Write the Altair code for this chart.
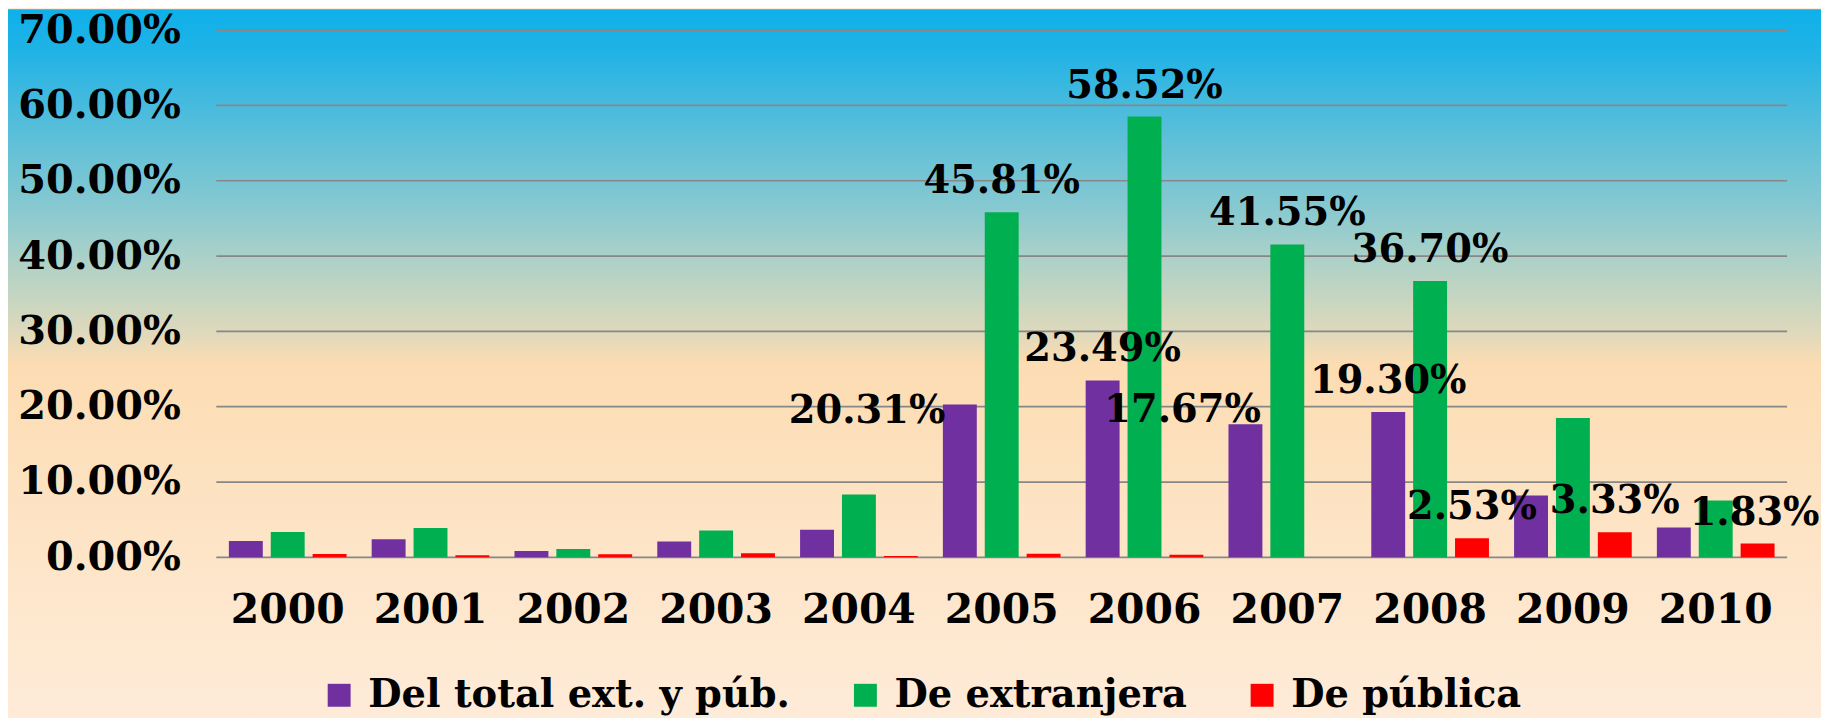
import altair as alt
import pandas as pd

years = ["2000", "2001", "2002", "2003", "2004", "2005", "2006", "2007", "2008", "2009", "2010"]
series = ["Del total ext. y púb.", "De extranjera", "De pública"]
colors = ["#7030A0", "#00B050", "#FF0000"]

total = [2.16, 2.39, 0.84, 2.12, 3.67, 20.31, 23.49, 17.67, 19.30, 8.22, 3.98]
extranjera = [3.36, 3.89, 1.10, 3.58, 8.35, 45.81, 58.52, 41.55, 36.70, 18.50, 7.55]
publica = [0.44, 0.27, 0.40, 0.53, 0.18, 0.49, 0.35, 0.00, 2.53, 3.33, 1.83]

total_labels = ["", "", "", "", "", "20.31%", "23.49%", "17.67%", "19.30%", "", ""]
extranjera_labels = ["", "", "", "", "", "45.81%", "58.52%", "41.55%", "36.70%", "", ""]
publica_labels = ["", "", "", "", "", "", "", "", "2.53%", "3.33%", "1.83%"]

y_ticks = [0, 10, 20, 30, 40, 50, 60, 70]

rows = []
for s, vals, labs in zip(series, [total, extranjera, publica],
                         [total_labels, extranjera_labels, publica_labels]):
    for yr, v, lb in zip(years, vals, labs):
        rows.append({"year": yr, "serie": s, "value": v, "label": lb})
df = pd.DataFrame(rows)
grid_df = pd.DataFrame({"value": y_ticks})

FONT = "DejaVu Serif"

W, H = 1576, 529
PAD = {"left": 209, "top": 21, "right": 34, "bottom": 160}

gradient = alt.Gradient(
    gradient="linear", x1=0, y1=0, x2=0, y2=1,
    stops=[
        alt.GradientStop(color="#0EB0EA", offset=0.0),
        alt.GradientStop(color="#20B3E6", offset=0.060),
        alt.GradientStop(color="#45BADE", offset=0.131),
        alt.GradientStop(color="#6DC3D5", offset=0.217),
        alt.GradientStop(color="#84C8D1", offset=0.274),
        alt.GradientStop(color="#A8D0C9", offset=0.345),
        alt.GradientStop(color="#CAD6BF", offset=0.416),
        alt.GradientStop(color="#E0D9BC", offset=0.459),
        alt.GradientStop(color="#FCDCB2", offset=0.501),
        alt.GradientStop(color="#FDE3C3", offset=0.701),
        alt.GradientStop(color="#FEEBD8", offset=1.0),
    ],
)

bg = alt.Chart(pd.DataFrame({"a": [0]})).mark_rect(fill=gradient).encode(
    x=alt.value(-PAD["left"]),
    x2=alt.value(W + PAD["right"]),
    y=alt.value(-PAD["top"]),
    y2=alt.value(H + PAD["bottom"]),
)

x_enc = alt.X(
    "year:N", sort=years, title=None,
    scale=alt.Scale(paddingInner=0, paddingOuter=0),
    axis=alt.Axis(
        labelAngle=0, labelBaseline="alphabetic", labelPadding=65,
        domain=False, ticks=False, tickSize=0, grid=False, zindex=1,
        labelFont=FONT, labelFontSize=41, labelFontWeight="bold", labelColor="#000000",
    ),
)
y_enc = alt.Y(
    "value:Q", title=None,
    scale=alt.Scale(domain=[0, 70], nice=False, zero=True),
    axis=alt.Axis(
        values=y_ticks,
        labelExpr="format(datum.value, '.2f') + '%'",
        labelPadding=36, domain=False, ticks=False, tickSize=0,
        grid=False, zindex=1,
        labelFont=FONT, labelFontSize=40, labelFontWeight="bold", labelColor="#000000",
    ),
)

grid = alt.Chart(grid_df).mark_rule(color="#878787", strokeWidth=1.7).encode(y=y_enc)

base = alt.Chart(df).encode(
    x=x_enc,
    xOffset=alt.XOffset(
        "serie:N", sort=series,
        scale=alt.Scale(domain=series, paddingInner=0.19, paddingOuter=0.3),
    ),
    y=y_enc,
)

bars = base.mark_bar().encode(
    color=alt.Color(
        "serie:N", sort=series,
        scale=alt.Scale(domain=series, range=colors),
        legend=alt.Legend(
            title=None, orient="none", legendX=104, legendY=648,
            direction="horizontal", symbolType="square", symbolSize=529,
            symbolStrokeWidth=0, symbolOffset=0, labelOffset=10,
            columnPadding=56, padding=0, labelLimit=1000,
            labelFont=FONT, labelFontSize=38.5, labelFontWeight="bold", labelColor="#000000",
        ),
    )
)

text_kw = dict(font=FONT, fontSize=38.5, fontWeight="bold", color="#000000",
               baseline="alphabetic", align="center")

special = ["20.31%", "17.67%", "1.83%"]
lab_main = base.mark_text(dy=-19, **text_kw).encode(text="label:N").transform_filter(
    "datum.label != '' && indexof(" + str(special) + ", datum.label) < 0"
)
lab_a = base.mark_text(dx=-93, dy=19, **text_kw).encode(text="label:N").transform_filter(
    "datum.label == '20.31%'"
)
lab_b = base.mark_text(dx=-63, dy=-2, **text_kw).encode(text="label:N").transform_filter(
    "datum.label == '17.67%'"
)
lab_c = base.mark_text(dx=-3, dy=-19, **text_kw).encode(text="label:N").transform_filter(
    "datum.label == '1.83%'"
)

chart = alt.layer(bg, grid, bars, lab_main, lab_a, lab_b, lab_c).properties(
    width=W, height=H, padding=PAD,
    autosize=alt.AutoSizeParams(type="none"),
).configure_view(stroke=None).configure(background="#FEEBD8")

chart.save("out.html", embed_options={"renderer": "svg", "actions": False})
